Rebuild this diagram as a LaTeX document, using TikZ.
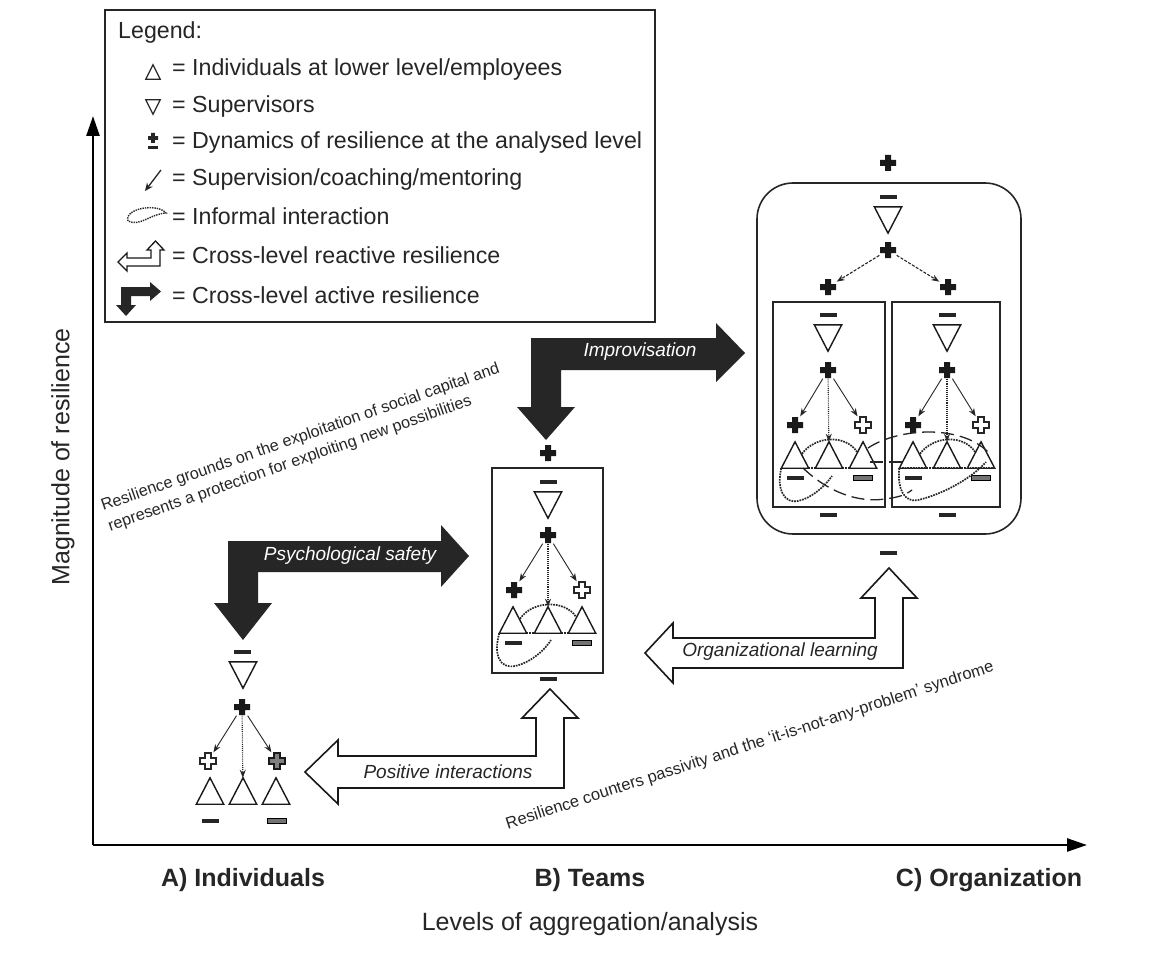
\documentclass[tikz,border=0pt]{standalone}
\usepackage{fontspec}
\setmainfont{Liberation Sans}
\usetikzlibrary{arrows.meta,calc}
\newcommand\crossp[3]{([shift={(-#2,#3)}]#1) -- ([shift={(#2,#3)}]#1) -- ([shift={(#2,#2)}]#1) -- ([shift={(#3,#2)}]#1) -- ([shift={(#3,-#2)}]#1) -- ([shift={(#2,-#2)}]#1) -- ([shift={(#2,-#3)}]#1) -- ([shift={(-#2,-#3)}]#1) -- ([shift={(-#2,-#2)}]#1) -- ([shift={(-#3,-#2)}]#1) -- ([shift={(-#3,#2)}]#1) -- ([shift={(-#2,#2)}]#1) -- cycle}
\newcommand\lgfont{\fontsize{23.2}{27}\selectfont}
\newcommand\axfont{\fontsize{25}{30}\selectfont}
\newcommand\arfont{\fontsize{19}{23}\selectfont\itshape}
\newcommand\rotfonta{\fontsize{16.2}{21.5}\selectfont}
\newcommand\rotfontb{\fontsize{16.5}{21.5}\selectfont}
\tikzset{
  pl/.style={inner sep=0pt, minimum size=17pt},
  tr/.style={inner sep=0pt, minimum width=27pt, minimum height=26pt},
  mn/.style={fill=black!85, inner sep=0pt, minimum width=17pt, minimum height=4.5pt},
  bmn/.style={fill=black!55, draw=black, line width=1pt, inner sep=0pt, minimum width=19pt, minimum height=5.5pt},
  trs/.style={draw=black!90, line width=1.4pt, line join=miter},
  sup/.style={draw=black!85, line width=0.9pt, -{Stealth[length=8pt,width=6pt]}},
  supd/.style={sup, densely dotted, line width=1.1pt},
  supdash/.style={sup, dash pattern=on 3pt off 1.5pt, line width=1.1pt},
  inf/.style={draw=black!85, densely dotted, line width=1.7pt},
  lng/.style={draw=black!85, dash pattern=on 13pt off 6pt, line width=1.3pt},
  blk/.style={fill=black!85},
  wht/.style={fill=white, draw=black!90, line width=1.6pt, line join=miter},
  boxst/.style={draw=black!85, line width=1.6pt},
  lgt/.style={anchor=west, inner sep=0pt, font=\lgfont, text=black!85},
  alab/.style={font=\arfont},
}
\begin{document}
\begin{tikzpicture}[x=1pt,y=-1pt]
\useasboundingbox (0,0) rectangle (1161,960);
\fill[white] (0,0) rectangle (1161,960);

% ---------------- axes ----------------
\coordinate (origin) at (93,845);
\coordinate (ytip) at (93,116);
\coordinate (xtip) at (1087,845);
\draw[line width=2.6pt, -{Triangle[length=20pt,width=13pt]}] (origin) -- (ytip);
\draw[line width=2.6pt, -{Triangle[length=20pt,width=13pt]}] (origin) -- (xtip);
\node[rotate=90, font=\axfont, text=black!85] (ylab) at (63,457) {Magnitude of resilience};
\node[font=\axfont\bfseries, text=black!85] (lvA) at (243,880) {A) Individuals};
\node[font=\axfont\bfseries, text=black!85] (lvB) at (590,880) {B) Teams};
\node[font=\axfont\bfseries, text=black!85] (lvC) at (989,880) {C) Organization};
\node[font=\axfont, text=black!85] (xlab) at (590,924) {Levels of aggregation/analysis};

% ---------------- legend ----------------
\draw[boxst] (105,10) rectangle (655,322);
\node[lgt] (lgtitle) at (118,33) {Legend:};
\node[lgt] (lg1) at (172,70) {= Individuals at lower level/employees};
\node[lgt] (lg2) at (172,107) {= Supervisors};
\node[lgt] (lg3) at (172,143) {= Dynamics of resilience at the analysed level};
\node[lgt] (lg4) at (172,180) {= Supervision/coaching/mentoring};
\node[lgt] (lg5) at (172,216) {= Informal interaction};
\node[lgt] (lg6) at (172,255) {= Cross-level reactive resilience};
\node[lgt] (lg7) at (172,295) {= Cross-level active resilience};
\node[inner sep=0pt, minimum width=14pt, minimum height=14pt] (lgtri) at (153,72) {};
\draw[draw=black!85, line width=1.2pt, line join=miter] (lgtri.south west) -- (lgtri.north) -- (lgtri.south east) -- cycle;
\node[inner sep=0pt, minimum width=14pt, minimum height=14pt] (lgitri) at (153,107) {};
\draw[draw=black!85, line width=1.2pt, line join=miter] (lgitri.north west) -- (lgitri.south) -- (lgitri.north east) -- cycle;
\node[inner sep=0pt, minimum size=10pt] (lgpm) at (153,138) {};
\fill[black!85] \crossp{lgpm.center}{1.8pt}{5pt};
\fill[black!85] (148,146) rectangle (158,149.5);
\coordinate (lgas) at (161,170);
\coordinate (lgae) at (145,191);
\draw[line width=1.3pt, draw=black!85, -{Stealth[length=8pt,width=7pt]}] (lgas) -- (lgae);
\draw[densely dotted, line width=1.4pt, draw=black!85] (128,221) .. controls (124,208) and (158,203) .. (166,213) .. controls (150,214) and (140,227) .. (128,221);
\filldraw[fill=white, draw=black!90, line width=1.3pt, line join=miter]
  (118,262) -- (127,253) -- (127,258) -- (151,258) -- (151,250) -- (147,250) -- (155.5,241) -- (164,250) -- (160,250) -- (160,266) -- (127,266) -- (127,271) -- cycle;
\fill[black!85]
  (121,287) -- (150,287) -- (150,282) -- (161,291.5) -- (150,301) -- (150,296) -- (131,296) -- (131,305) -- (136,305) -- (126,316) -- (116,305) -- (121,305) -- cycle;

% ---------------- rotated comments ----------------
\node[rotate=19.2, align=left, font=\rotfonta, text=black!85] (cm1) at (304,448)
  {Resilience grounds on the exploitation of social capital and\\represents a protection for exploiting new possibilities};
\node[rotate=18, font=\rotfontb, text=black!85] (cm2) at (750,746)
  {Resilience counters passivity and the `it-is-not-any-problem' syndrome};

% ---------------- A) Individuals ----------------
\node[mn] (im) at (242,652) {};
\node[tr] (is) at (243,675) {};
\node[pl] (ip) at (242,707) {};
\node[pl] (ilp) at (208,761) {};
\node[pl] (irp) at (277,761) {};
\node[tr] (it1) at (210,791) {};
\node[tr] (it2) at (243,791) {};
\node[tr] (it3) at (276,791) {};
\node[mn] (im1) at (210,821) {};
\node[bmn] (im2) at (277,821) {};

% ---------------- B) Teams ----------------
\draw[boxst] (492,468) rectangle (603,673);
\node[pl] (ttop) at (548,453) {};
\node[mn] (tm) at (548,482) {};
\node[tr] (ts) at (548,505) {};
\node[pl] (tp) at (548,535) {};
\node[pl] (tlp) at (514,590) {};
\node[pl] (trp) at (582,590) {};
\node[tr] (tt1) at (513,620) {};
\node[tr] (tt2) at (548,620) {};
\node[tr] (tt3) at (582,620) {};
\node[mn] (tm1) at (513,643) {};
\node[bmn] (tm2) at (582,643) {};
\node[mn] (tmb) at (548,679) {};

% ---------------- C) Organization ----------------
\draw[boxst, rounded corners=36pt] (757,183) rectangle (1021,534);
\draw[boxst] (773,302) rectangle (885,507);
\draw[boxst] (892,302) rectangle (1000,507);
\node[pl] (otop) at (888,163) {};
\node[mn] (om) at (888,197) {};
\node[tr] (os) at (888,220) {};
\node[pl] (op) at (888,250) {};
\node[pl] (olp) at (828,287) {};
\node[pl] (orp) at (948,287) {};
\node[mn] (omb) at (888,553) {};
% left team
\node[mn] (lm) at (828,315) {};
\node[tr] (ls) at (828,338) {};
\node[pl] (lp) at (828,370) {};
\node[pl] (llp) at (795,425) {};
\node[pl] (lrp) at (863,425) {};
\node[tr] (lt1) at (795,455) {};
\node[tr] (lt2) at (829,455) {};
\node[tr] (lt3) at (863,455) {};
\node[mn] (lm1) at (795,478) {};
\node[bmn] (lm2) at (863,478) {};
\node[mn] (lmb) at (828,515) {};
% right team
\node[mn] (rm) at (947,315) {};
\node[tr] (rs) at (947,338) {};
\node[pl] (rp) at (947,370) {};
\node[pl] (rlp) at (913,425) {};
\node[pl] (rrp) at (981,425) {};
\node[tr] (rt1) at (913,455) {};
\node[tr] (rt2) at (947,455) {};
\node[tr] (rt3) at (981,455) {};
\node[mn] (rm1) at (913,478) {};
\node[bmn] (rm2) at (981,478) {};
\node[mn] (rmb) at (947,515) {};

% ---------------- symbols ----------------
\foreach \n in {ip,ttop,tp,tlp,otop,op,olp,orp,lp,llp,rp,rlp}
  \fill[black!90] \crossp{\n.center}{3pt}{8pt};
\foreach \n in {ilp,trp,lrp,rrp}
  \filldraw[fill=white, draw=black!85, line width=1.1pt, line join=miter] \crossp{\n.center}{3pt}{8pt};
\filldraw[fill=black!50, draw=black!90, line width=1.1pt, line join=miter] \crossp{irp.center}{3pt}{8pt};
\foreach \n in {it1,it2,it3,tt1,tt2,tt3,lt1,lt2,lt3,rt1,rt2,rt3}
  \draw[trs] (\n.south west) -- (\n.north) -- (\n.south east) -- cycle;
\foreach \n in {is,ts,os,ls,rs}
  \draw[trs] (\n.north west) -- (\n.south) -- (\n.north east) -- cycle;

% supervision arrows
\draw[sup] (ip) -- (ilp);
\draw[supd] (ip) -- (it2);
\draw[sup] (ip) -- (irp);
\draw[sup] (tp) -- (tlp);
\draw[supd] (tp) -- (tt2);
\draw[sup] (tp) -- (trp);
\draw[supdash] (op) -- (olp);
\draw[supdash] (op) -- (orp);
\draw[sup] (lp) -- (llp);
\draw[supd] (lp) -- (lt2);
\draw[sup] (lp) -- (lrp);
\draw[sup] (rp) -- (rlp);
\draw[supd] (rp) -- (rt2);
\draw[sup] (rp) -- (rrp);

% informal interactions - team
\draw[inf] ($(tt1.north)+(7,12)$) .. controls (533,600) and (565,600) .. ($(tt3.north)+(-6,10)$);
\draw[inf] (tt1.south east) -- (tt2.south west);
\draw[inf] (tt2.south east) -- (tt3.south west);
\draw[inf] (tt1.south west) .. controls (493,655) and (500,669) .. (515,666) .. controls (530,663) and (545,650) .. (551,640);
% informal interactions - organization
\draw[inf] ($(lt1.north)+(7,12)$) .. controls (815,436) and (845,434) .. ($(lt3.north)+(-6,10)$);
\draw[inf] (lt1.south east) -- (lt2.south west);
\draw[inf] (lt2.south east) -- (lt3.south west);
\draw[inf] (lt1.south west) .. controls (776,490) and (785,504) .. (798,501) .. controls (812,498) and (825,486) .. (832,476);
\draw[inf] ($(rt1.north)+(7,12)$) .. controls (933,436) and (963,434) .. ($(rt3.north)+(-6,10)$);
\draw[inf] (rt1.south west) -- (rt3.south east);
\draw[inf] (rt1.south west) .. controls (897,490) and (905,503) .. (918,500) .. controls (940,495) and (970,480) .. (986,462);
\draw[lng] (803,468) .. controls (828,492) and (858,503) .. (885,499) .. controls (900,497) and (905,495) .. (912,490);
\draw[lng] (868,448) .. controls (898,428) and (960,424) .. (988,452);
\draw[lng] (870,462) -- (904,462);

% ---------------- cross-level arrows ----------------
% Psychological safety (active)
\fill[blk] (228,541) -- (441,541) -- (441,525) -- (469,556) -- (441,587) -- (441,572) -- (258,572) -- (258,603) -- (272,603) -- (243,640) -- (214,603) -- (228,603) -- cycle;
\node[alab, text=white] (psl) at (350,556) {Psychological safety};
% Improvisation (active)
\fill[blk] (531,338) -- (716,338) -- (716,323) -- (745,353) -- (716,382) -- (716,370) -- (561,370) -- (561,407) -- (575,407) -- (546,440) -- (517,407) -- (531,407) -- cycle;
\node[alab, text=white] (imp) at (640,352) {Improvisation};
% Organizational learning (reactive)
\filldraw[wht] (889,568) -- (917,598) -- (903,598) -- (903,668) -- (673,668) -- (673,683) -- (645,653) -- (673,623) -- (673,638) -- (875,638) -- (875,598) -- (861,598) -- cycle;
\node[alab, text=black!85] (orgl) at (780,652) {Organizational learning};
% Positive interactions (reactive)
\filldraw[wht] (550,689) -- (578,718) -- (564,718) -- (564,788) -- (338,788) -- (338,804) -- (305,772) -- (338,740) -- (338,756) -- (536,756) -- (536,718) -- (522,718) -- cycle;
\node[alab, text=black!85] (posi) at (448,772) {Positive interactions};
\end{tikzpicture}
\end{document}
